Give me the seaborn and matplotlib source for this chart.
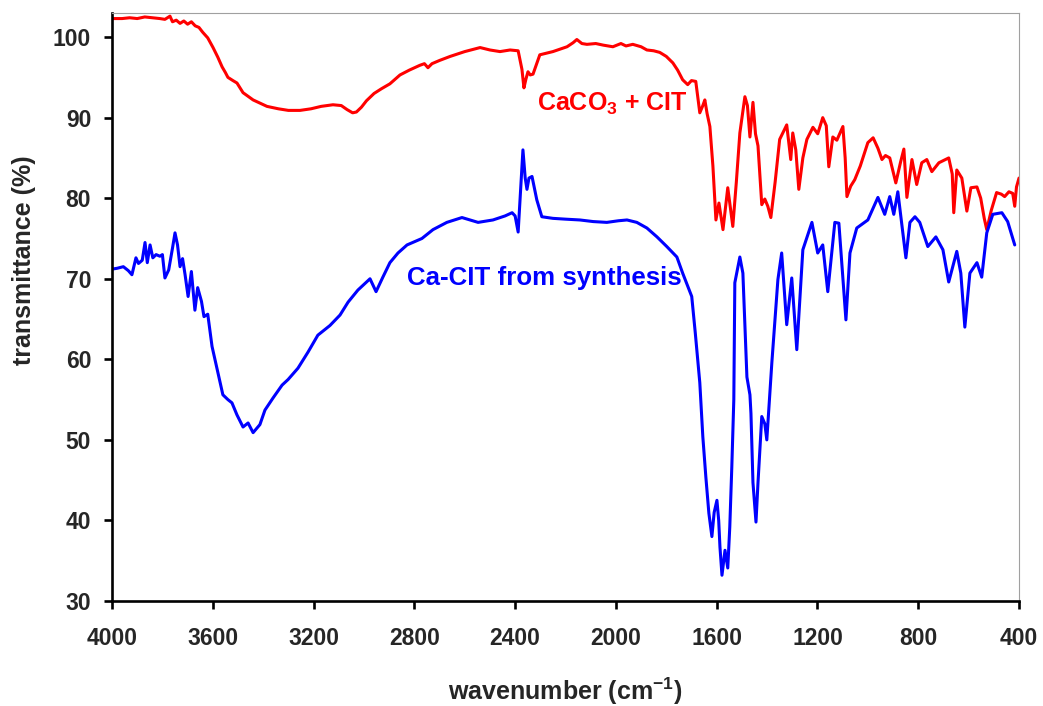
import numpy as np
import pandas as pd
import matplotlib
matplotlib.use("Agg")
import matplotlib.pyplot as plt
import seaborn as sns

# ---------------- data ----------------
wn_red = [4000, 3960, 3930, 3900, 3870, 3840, 3810, 3790, 3770, 3760, 3745, 3730, 3715, 3700,
          3685, 3670, 3655, 3640, 3620, 3599, 3580, 3563, 3550, 3540, 3520, 3504, 3490, 3480,
          3440, 3385, 3340, 3300, 3254, 3210, 3170, 3123, 3090, 3067, 3045, 3030, 3010, 2990,
          2960, 2930, 2897, 2857, 2820, 2778, 2760, 2746, 2730, 2700, 2658, 2600, 2539, 2500,
          2460, 2420, 2388, 2373, 2365, 2357, 2349, 2340, 2329, 2302, 2250, 2194, 2170, 2155,
          2135, 2115, 2080, 2050, 2012, 1980, 1960, 1933, 1900, 1877, 1850, 1826, 1800, 1774,
          1755, 1735, 1715, 1700, 1683, 1667, 1655, 1647, 1638, 1627, 1615, 1603, 1591, 1575,
          1556, 1536, 1522, 1508, 1488, 1478, 1468, 1456, 1446, 1436, 1421, 1409, 1397, 1385,
          1368, 1350, 1322, 1306, 1298, 1286, 1274, 1258, 1242, 1218, 1199, 1179, 1165, 1155,
          1139, 1123, 1099, 1090, 1083, 1068, 1052, 1030, 1000, 979, 960, 944, 930, 913, 889,
          870, 857, 845, 825, 806, 786, 766, 746, 718, 679, 665, 659, 647, 627, 607, 591, 567,
          552, 538, 528, 510, 489, 470, 457, 440, 425, 417, 410, 400]
t_red = [102.3, 102.3, 102.4, 102.3, 102.5, 102.4, 102.3, 102.2, 102.6, 101.9, 102.1, 101.7, 102.0, 101.6,
         101.9, 101.4, 101.2, 100.6, 99.9, 98.7, 97.5, 96.3, 95.6, 95.0, 94.6, 94.3, 93.6, 93.1,
         92.2, 91.4, 91.1, 90.9, 90.9, 91.1, 91.4, 91.6, 91.5, 91.0, 90.6, 90.7, 91.3, 92.1,
         93.0, 93.6, 94.2, 95.3, 95.9, 96.5, 96.7, 96.2, 96.7, 97.1, 97.6, 98.2, 98.7, 98.4,
         98.2, 98.4, 98.3, 96.0, 93.7, 94.8, 95.7, 95.3, 95.4, 97.8, 98.2, 98.8, 99.3, 99.7,
         99.2, 99.1, 99.2, 99.0, 98.8, 99.2, 98.9, 99.1, 98.8, 98.4, 98.3, 98.1, 97.6, 96.8,
         95.9, 94.7, 94.1, 94.6, 94.5, 90.6, 91.5, 92.2, 90.5, 88.9, 84.0, 77.3, 79.4, 76.1,
         81.3, 76.5, 82.0, 88.1, 92.6, 91.5, 87.6, 91.9, 88.0, 86.5, 79.2, 79.9, 79.0, 77.6,
         82.0, 87.3, 89.1, 84.8, 88.1, 86.0, 81.1, 85.0, 87.3, 88.8, 88.0, 90.0, 89.0, 83.9,
         87.6, 87.2, 88.9, 85.0, 80.2, 81.5, 82.3, 84.0, 86.9, 87.5, 86.2, 84.8, 85.3, 85.0, 81.9,
         84.5, 86.1, 80.1, 84.8, 81.7, 84.4, 84.8, 83.3, 84.4, 85.0, 83.0, 78.2, 83.5, 82.5, 78.4, 81.3, 81.4,
         80.0, 77.5, 76.1, 78.5, 80.7, 80.5, 80.2, 80.8, 80.6, 79.0, 81.4, 82.5]

wn_blue = [4000, 3980, 3955, 3935, 3921, 3905, 3895, 3880, 3869, 3860, 3849, 3838, 3825, 3810,
           3800, 3790, 3775, 3760, 3750, 3740, 3730, 3720, 3710, 3698, 3685, 3671, 3660, 3645,
           3635, 3620, 3603, 3580, 3560, 3540, 3524, 3504, 3480, 3460, 3440, 3413, 3393, 3361,
           3325, 3301, 3262, 3222, 3183, 3135, 3095, 3063, 3024, 2976, 2952, 2925, 2897, 2865,
           2829, 2770, 2726, 2671, 2611, 2547, 2488, 2440, 2412, 2400, 2388, 2380, 2369, 2360,
           2353, 2345, 2333, 2314, 2294, 2250, 2200, 2143, 2090, 2036, 1990, 1956, 1917, 1877,
           1837, 1798, 1758, 1735, 1699, 1685, 1667, 1655, 1643, 1631, 1619, 1610, 1599, 1592,
           1587, 1579, 1567, 1556, 1548, 1540, 1532, 1528, 1508, 1496, 1480, 1468, 1464, 1456,
           1444, 1436, 1421, 1409, 1401, 1381, 1357, 1342, 1322, 1302, 1282, 1258, 1222, 1199,
           1179, 1159, 1131, 1115, 1087, 1071, 1044, 1000, 960, 933, 913, 897, 881, 849, 833,
           813, 794, 762, 730, 702, 679, 647, 631, 615, 595, 567, 548, 528, 504, 468, 445, 417]
t_blue = [71.2, 71.3, 71.5, 71.0, 70.5, 72.6, 71.9, 72.3, 74.5, 72.0, 74.2, 72.6, 73.0, 72.8,
          73.0, 70.1, 71.1, 73.8, 75.7, 74.2, 71.5, 72.5, 70.5, 67.8, 70.9, 66.1, 68.9, 67.2,
          65.3, 65.6, 61.6, 58.4, 55.6, 55.0, 54.6, 53.1, 51.6, 52.1, 50.9, 51.9, 53.7, 55.2,
          56.8, 57.5, 58.9, 60.9, 63.0, 64.2, 65.5, 67.1, 68.6, 70.0, 68.4, 70.2, 72.0, 73.2,
          74.2, 75.0, 76.1, 77.0, 77.6, 77.0, 77.3, 77.8, 78.2, 77.8, 75.8, 80.0, 86.0, 82.5,
          81.1, 82.5, 82.7, 79.8, 77.7, 77.5, 77.4, 77.3, 77.1, 77.0, 77.2, 77.3, 77.0, 76.3,
          75.2, 74.0, 72.7, 70.7, 67.8, 63.3, 57.1, 50.4, 45.4, 40.9, 38.0, 41.0, 42.5, 40.0,
          36.7, 33.2, 36.3, 34.1, 39.2, 46.6, 55.0, 69.5, 72.7, 70.7, 57.8, 55.6, 53.3, 44.7,
          39.8, 44.7, 52.9, 52.0, 50.0, 59.6, 69.9, 73.2, 64.3, 70.1, 61.2, 73.6, 77.0, 73.2,
          74.2, 68.4, 77.0, 76.9, 64.9, 73.2, 76.3, 77.3, 80.1, 78.0, 80.2, 78.0, 80.8, 72.6, 77.0,
          77.7, 77.0, 74.0, 75.2, 73.6, 69.6, 73.4, 70.7, 64.0, 70.7, 72.0, 70.2, 75.7, 78.0, 78.2, 77.1, 74.2]

series_names = ["CaCO3 + CIT", "Ca-CIT from synthesis"]
x_ticks = [4000, 3600, 3200, 2800, 2400, 2000, 1600, 1200, 800, 400]
y_ticks = [30, 40, 50, 60, 70, 80, 90, 100]

# ---------------- style ----------------
sns.set_style("ticks")
plt.rcParams["font.family"] = ["Liberation Sans", "DejaVu Sans"]
plt.rcParams["font.weight"] = "bold"
plt.rcParams["mathtext.fontset"] = "custom"
plt.rcParams["mathtext.rm"] = "Liberation Sans:bold"
plt.rcParams["mathtext.bf"] = "Liberation Sans:bold"
plt.rcParams["mathtext.it"] = "Liberation Sans:bold"
plt.rcParams["mathtext.default"] = "rm"

df = pd.concat([
    pd.DataFrame({"wavenumber": wn_red, "T": t_red, "sample": series_names[0]}),
    pd.DataFrame({"wavenumber": wn_blue, "T": t_blue, "sample": series_names[1]}),
], ignore_index=True)

fig = plt.figure(figsize=(10.43, 7.06), dpi=100)
ax = fig.add_axes([0.1074, 0.1487, 0.8696, 0.833])

sns.lineplot(data=df, x="wavenumber", y="T", hue="sample",
             palette={series_names[0]: "#ff0000", series_names[1]: "#0000ff"},
             estimator=None, sort=False, legend=False, linewidth=2.2, ax=ax)

ax.set_xlim(4000, 400)
ax.set_ylim(30, 103)
ax.set_xticks(x_ticks)
ax.set_yticks(y_ticks)
ax.set_xticklabels([str(v) for v in x_ticks])
ax.set_yticklabels([str(v) for v in y_ticks])

for s in ["left", "bottom"]:
    ax.spines[s].set_color("black")
    ax.spines[s].set_linewidth(1.9)
for s in ["top", "right"]:
    ax.spines[s].set_color("#a0a0a0")
    ax.spines[s].set_linewidth(0.8)

ax.tick_params(axis="both", which="major", direction="out", length=6, width=1.9,
               color="black", labelsize=16.5)
ax.tick_params(axis="y", pad=9)
ax.tick_params(axis="x", pad=13)
for lab in ax.get_xticklabels() + ax.get_yticklabels():
    lab.set_fontweight("bold")

ax.set_xlabel(r"wavenumber (cm$^{-1}$)", fontsize=18, fontweight="bold", labelpad=18)
ax.set_ylabel("transmittance (%)", fontsize=18, fontweight="bold")
ax.yaxis.set_label_coords(-0.084, 0.58)

ax.text(2313, 91.7, r"CaCO$_{3}$ + CIT", color="#ff0000", fontsize=18,
        fontweight="bold", ha="left", va="center")
ax.text(2829, 70.1, "Ca-CIT from synthesis", color="#0000ff", fontsize=18.6,
        fontweight="bold", ha="left", va="center")

fig.savefig("out.png", dpi=100, facecolor="white")
